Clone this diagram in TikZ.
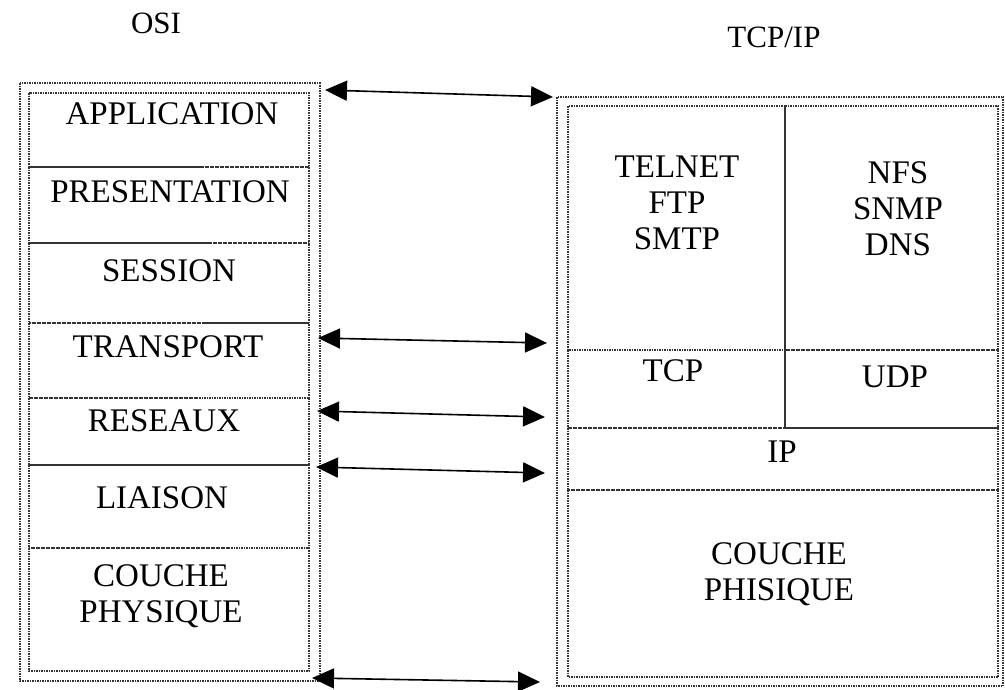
\documentclass[tikz,border=0pt]{standalone}
\usepackage{fontspec}
\setmainfont{Liberation Serif}
\usetikzlibrary{arrows.meta}

\begin{document}
\begin{tikzpicture}[x=1pt,y=-1pt,
  box/.style={draw=black!80,densely dotted,line width=1.5pt},
  lay/.style={font=\fontsize{33}{36}\selectfont,align=center,inner sep=0pt},
  ttl/.style={font=\fontsize{31}{34}\selectfont,inner sep=0pt},
  link/.style={{Triangle[length=22pt,width=20pt]}-{Triangle[length=22pt,width=20pt]},line width=1.6pt}]
  \useasboundingbox (0,0) rectangle (1005,689);
  % titles
  \node[ttl] (osi) at (156,23) {OSI};
  \node[ttl] (tcpip) at (774,37) {TCP/IP};
  % OSI stack
  \draw[box] (20,83) rectangle (320,681);
  \draw[box] (29,93) rectangle (309,167);
  \draw[box] (29,167) rectangle (309,243);
  \draw[box] (29,243) rectangle (309,323);
  \draw[box] (29,323) rectangle (309,398);
  \draw[box] (29,398) rectangle (309,465);
  \draw[box] (29,465) rectangle (309,548);
  \draw[box] (29,548) rectangle (309,671);
  \node[lay] (app) at (172,114) {APPLICATION};
  \node[lay] (pres) at (170,192) {PRESENTATION};
  \node[lay] (sess) at (169,271) {SESSION};
  \node[lay] (trans) at (168,347) {TRANSPORT};
  \node[lay] (res) at (164,421) {RESEAUX};
  \node[lay] (liai) at (162,498) {LIAISON};
  \node[lay] (phys) at (161,596) {COUCHE\\PHYSIQUE};
  % TCP/IP stack
  \draw[box] (557,97) rectangle (1003,686);
  \draw[box] (568,106) rectangle (785,350);
  \draw[box] (785,106) rectangle (998,350);
  \draw[box] (568,350) rectangle (785,428);
  \draw[box] (785,350) rectangle (998,428);
  \draw[box] (568,428) rectangle (998,490);
  \draw[box] (568,490) rectangle (998,677);
  \node[lay] (apps1) at (677,203) {TELNET\\FTP\\SMTP};
  \node[lay] (apps2) at (898,209) {NFS\\SNMP\\DNS};
  \node[lay] (tcp) at (673,371) {TCP};
  \node[lay] (udp) at (895,377) {UDP};
  \node[lay] (ip) at (782,452) {IP};
  \node[lay] (phis) at (779,574) {COUCHE\\PHISIQUE};
  % arrow ends
  \coordinate (l1) at (325,90);  \coordinate (r1) at (553,97);
  \coordinate (l2) at (318,338); \coordinate (r2) at (547,343);
  \coordinate (l3) at (317,411); \coordinate (r3) at (545,417);
  \coordinate (l4) at (316,467); \coordinate (r4) at (545,473);
  \coordinate (l5) at (312,678); \coordinate (r5) at (540,682);
  \draw[link] (l1) -- (r1);
  \draw[link] (l2) -- (r2);
  \draw[link] (l3) -- (r3);
  \draw[link] (l4) -- (r4);
  \draw[link] (l5) -- (r5);
\end{tikzpicture}
\end{document}
